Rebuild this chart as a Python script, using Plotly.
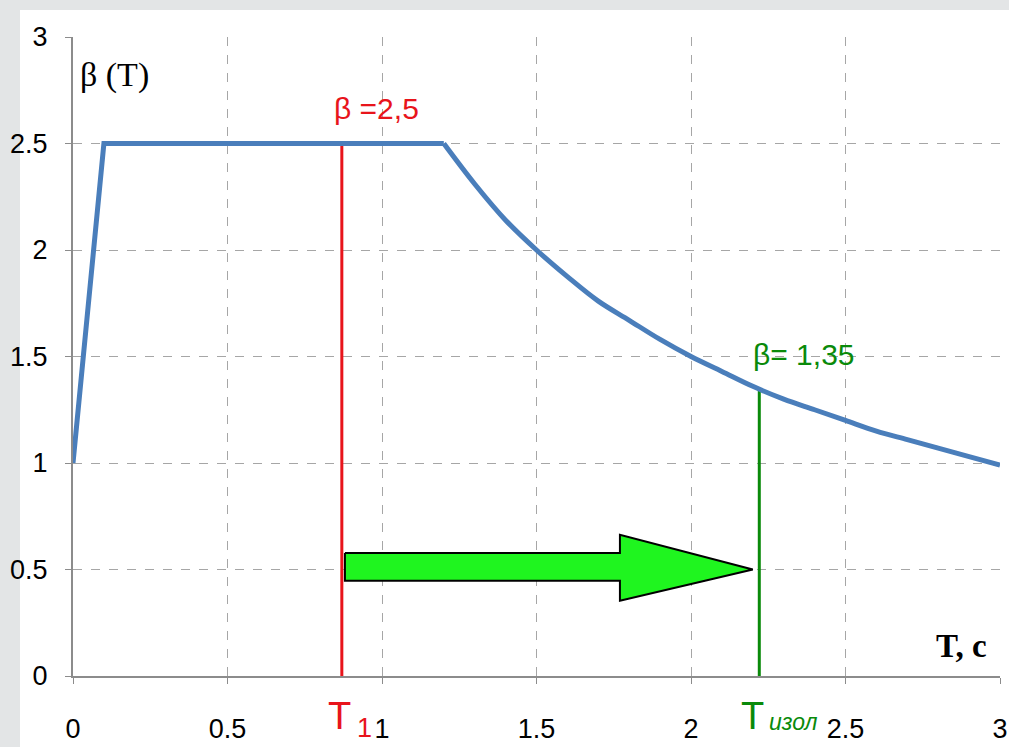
import plotly.graph_objects as go

# Spectral curve beta(T): linear rise + plateau
T_lin = [0.0, 0.1, 1.2]
beta_lin = [1.0, 2.5, 2.5]
# Descending branch
T_dec = [1.2, 1.3, 1.4, 1.5, 1.6, 1.7, 1.8, 1.9, 2.0, 2.1, 2.2, 2.3, 2.4, 2.5, 2.6, 2.7, 2.8, 2.9, 3.0]
beta_dec = [2.5, 2.31, 2.14, 2.0, 1.875, 1.76, 1.67, 1.58, 1.5, 1.43, 1.36, 1.30, 1.25, 1.2, 1.15, 1.11, 1.07, 1.03, 0.99]

# Markers
T1 = 0.87
beta_T1 = 2.5
T_iso = 2.221
beta_iso = 1.35

# Arrow outline (shift from T1 to T_iso at beta=0.5)
arrow_x = [0.88, 1.77, 1.77, 2.20, 1.77, 1.77, 0.88, 0.88]
arrow_y = [0.578, 0.578, 0.663, 0.5, 0.353, 0.447, 0.447, 0.578]

x_ticks = [0, 0.5, 1, 1.5, 2, 2.5, 3]
y_ticks = [0, 0.5, 1, 1.5, 2, 2.5, 3]

W, H = 1009, 747
L, R, Tm, B = 73, 9, 37, 71
pw, ph = W - L - R, H - Tm - B

def px(x):
    return (x - L) / pw

def py(y):
    return (H - B - y) / ph

sans = "Liberation Sans Narrow, Arial Narrow, Liberation Sans, Arial, sans-serif"
serif = "Liberation Serif, Times New Roman, serif"
blue = "#4a7ebb"
red = "#e8141b"
green = "#0a8a0a"

fig = go.Figure()

fig.add_trace(go.Scatter(x=[T1, T1], y=[0, beta_T1], mode="lines",
                         line=dict(color=red, width=3), hoverinfo="skip"))
fig.add_trace(go.Scatter(x=[T_iso, T_iso], y=[0, beta_iso], mode="lines",
                         line=dict(color=green, width=3), hoverinfo="skip"))
fig.add_trace(go.Scatter(x=T_lin, y=beta_lin, mode="lines",
                         line=dict(color=blue, width=5), hoverinfo="skip"))
fig.add_trace(go.Scatter(x=T_dec, y=beta_dec, mode="lines",
                         line=dict(color=blue, width=5, shape="spline", smoothing=1.0),
                         hoverinfo="skip"))
fig.add_trace(go.Scatter(x=arrow_x, y=arrow_y, mode="lines", fill="toself",
                         fillcolor="#1ff51f", line=dict(color="black", width=2),
                         hoverinfo="skip"))

# background white slide area
fig.add_shape(type="rect", xref="paper", yref="paper",
              x0=px(20), x1=px(W + 5), y0=py(H + 5), y1=py(10),
              fillcolor="white", line=dict(width=0), layer="below")

def ann(x, y, text, size, color, family, xa="center", ya="middle"):
    return dict(x=px(x), y=py(y), xref="paper", yref="paper", text=text, showarrow=False,
                xanchor=xa, yanchor=ya, font=dict(family=family, size=size, color=color))

annotations = [
    ann(376, 109, "β =2,5", 30, red, sans),
    ann(804, 354, "β= 1,35", 30, green, sans),
    ann(78, 75, "β (T)", 34, "black", serif, xa="left"),
    ann(989, 646, "<b>T, c</b>", 33, "black", serif, xa="right"),
    # T1 label
    ann(353, 716, "T", 38, red, sans, xa="right"),
    ann(355, 728, "1", 27, red, sans, xa="left"),
    # T_iso label
    ann(766, 716, "T", 38, green, sans, xa="right"),
    ann(767, 722, "<i>изол</i>", 23, green, sans, xa="left"),
]

axis_common = dict(
    range=[0, 3], showgrid=True, gridcolor="#a6a6a6", griddash="dash", gridwidth=1,
    showline=True, linecolor="#8c8c8c", linewidth=2,
    ticks="outside", ticklen=6, tickcolor="#8c8c8c", tickwidth=1,
    zeroline=False, automargin=False,
    tickfont=dict(family=sans, size=27, color="black"),
)

fig.update_layout(
    width=W, height=H,
    margin=dict(l=L, r=R, t=Tm, b=B, autoexpand=False),
    paper_bgcolor="#e3e5e6",
    plot_bgcolor="rgba(0,0,0,0)",
    showlegend=False,
    annotations=annotations,
    xaxis=dict(axis_common, tickvals=x_ticks, ticktext=[f"{v:g}" for v in x_ticks],
               ticklabelstandoff=22),
    yaxis=dict(axis_common, tickvals=y_ticks, ticktext=[f"{v:g}" for v in y_ticks],
               ticklabelstandoff=12),
)

post = ("document.body.style.margin='0';document.body.style.padding='0';"
        "document.body.style.overflow='hidden';"
        "document.documentElement.style.overflow='hidden';")

fig.write_html("out.html", post_script=post, config={"responsive": False, "displayModeBar": False})
